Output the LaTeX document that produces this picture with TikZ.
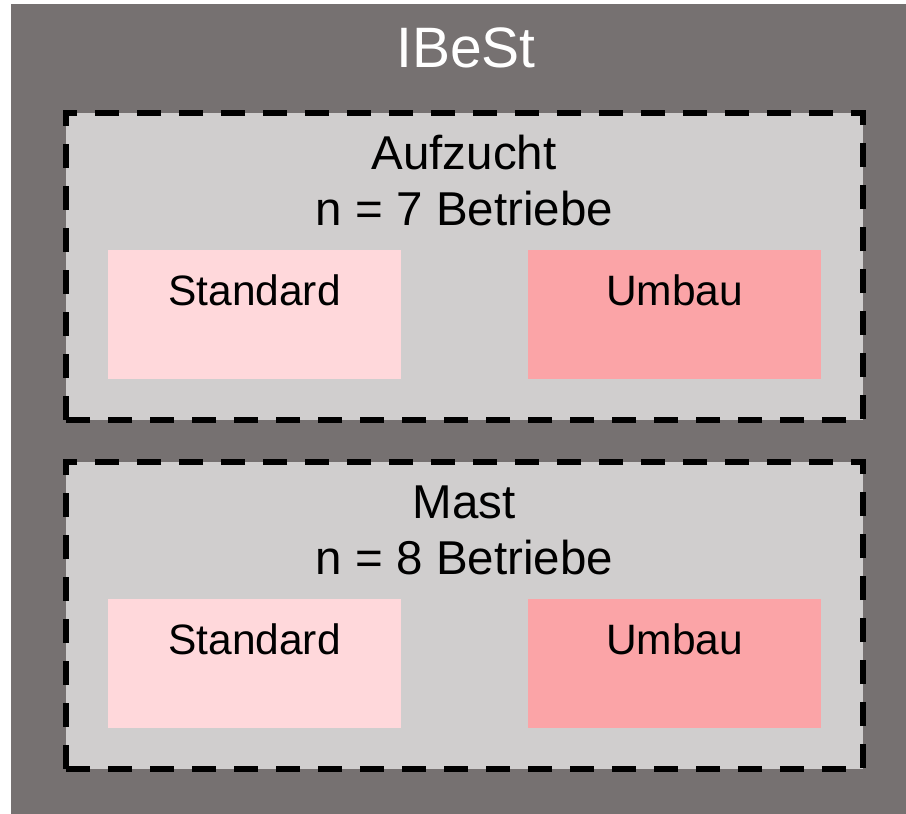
\documentclass[tikz,border=0pt]{standalone}
\usepackage{fontspec}
\setmainfont{Liberation Sans}
\definecolor{outergray}{HTML}{767171}
\definecolor{innergray}{HTML}{D0CECE}
\definecolor{pinklight}{HTML}{FFD8DB}
\definecolor{pinkdark}{HTML}{FBA4A7}
\tikzset{
  bg/.style={fill=outergray, draw=none, inner sep=0pt, minimum width=895pt, minimum height=810pt},
  group/.style={fill=innergray, draw=black, line width=5.5pt, dash pattern=on 24pt off 18pt, inner sep=0pt, minimum width=797pt, minimum height=307pt},
  stdbox/.style={fill=pinklight, draw=none, inner sep=0pt, minimum width=293pt, minimum height=129pt},
  umbbox/.style={fill=pinkdark, draw=none, inner sep=0pt, minimum width=293pt, minimum height=129pt},
  lbl/.style={anchor=base, inner sep=0pt, font=\fontsize{47.5}{56}\selectfont},
  slbl/.style={anchor=base, inner sep=0pt, font=\fontsize{42.5}{50}\selectfont},
  ttl/.style={anchor=base, inner sep=0pt, text=white, font=\fontsize{57}{64}\selectfont},
}
\begin{document}
\begin{tikzpicture}[x=1pt, y=-1pt]
\useasboundingbox (0,0) rectangle (906,814);
\node[bg] (outer) at (458.5,409) {};
\node[ttl] (title) at (466,67) {IBeSt};
\node[group] (g1) at (464.5,266.5) {};
\node[group] (g2) at (464.5,615.5) {};
\node[lbl] (g1a) at (464,169) {Aufzucht};
\node[lbl] (g1b) at (464.5,225) {n = 7 Betriebe};
\node[lbl] (g2a) at (464,518) {Mast};
\node[lbl] (g2b) at (464.5,574) {n = 8 Betriebe};
\node[stdbox] (s1) at (254.5,314.5) {};
\node[umbbox] (u1) at (674.5,314.5) {};
\node[stdbox] (s2) at (254.5,663.5) {};
\node[umbbox] (u2) at (674.5,663.5) {};
\node[slbl] (s1t) at (254.5,305) {Standard};
\node[slbl] (u1t) at (674.5,305) {Umbau};
\node[slbl] (s2t) at (254.5,654) {Standard};
\node[slbl] (u2t) at (674.5,654) {Umbau};
\end{tikzpicture}
\end{document}
